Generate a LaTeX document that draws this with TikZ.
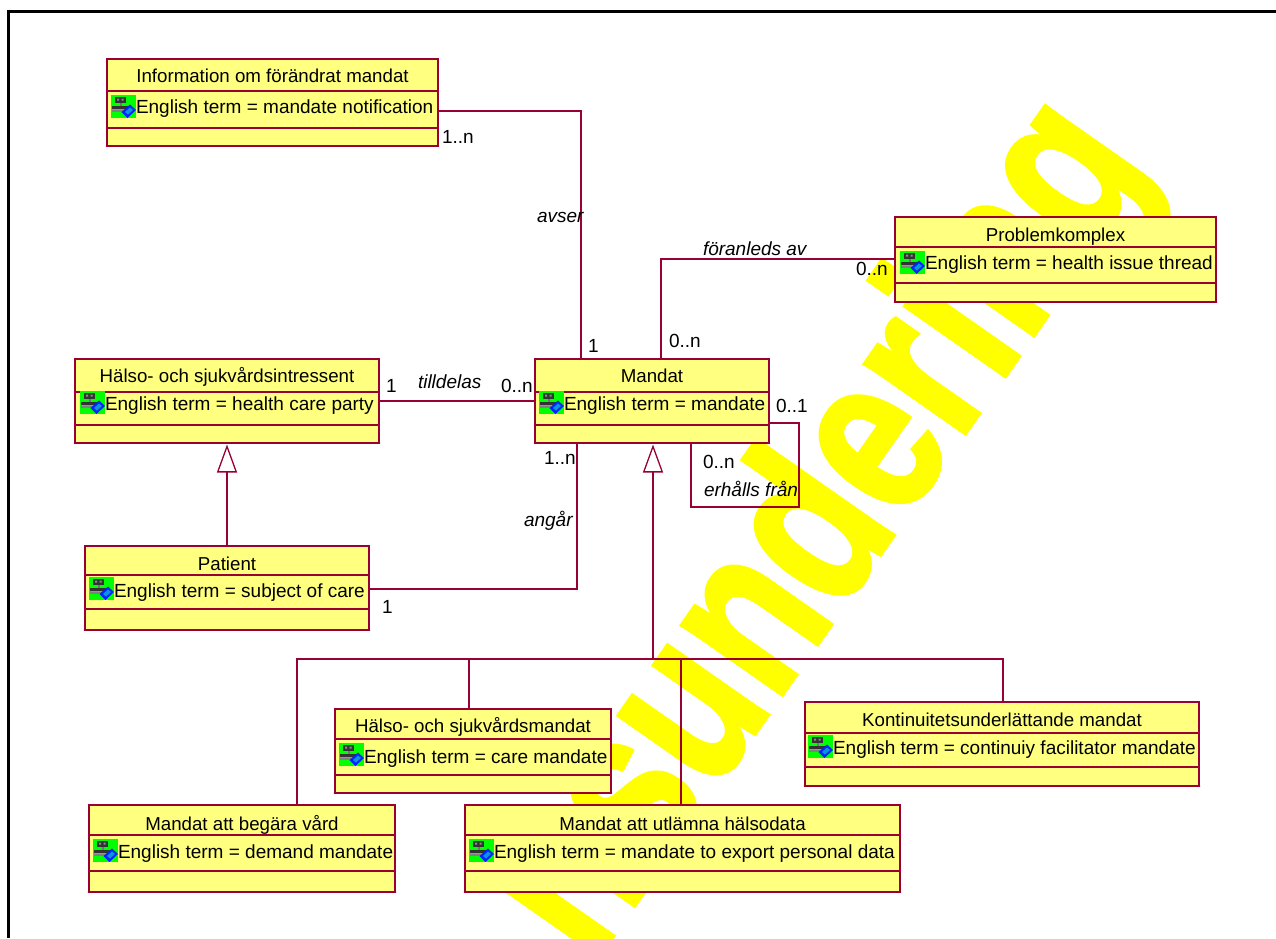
\documentclass[tikz,border=0pt]{standalone}
\usepackage{fontspec}
\setmainfont{Liberation Sans}
\newfontfamily\wmfont[FakeBold=2]{Liberation Sans Bold}
\usetikzlibrary{arrows.meta}
\definecolor{umlline}{HTML}{990033}
\definecolor{umlfill}{HTML}{FFFF80}
\definecolor{wmark}{HTML}{FFFF00}
\tikzset{
  classbox/.style={draw=umlline,fill=umlfill,line width=1.4pt,inner sep=0pt,outer sep=0pt,rectangle},
  titletext/.style={inner sep=0pt,outer sep=0pt,anchor=base,text=black,font=\fontsize{18.7}{22}\selectfont},
  attrtext/.style={inner sep=0pt,outer sep=0pt,text=black,anchor=base west,font=\fontsize{19}{22}\selectfont},
  mult/.style={attrtext},
  role/.style={attrtext,font=\fontsize{19}{22}\selectfont\itshape},
  assoc/.style={draw=umlline,line width=1.3pt},
  inherit/.style={draw=umlline,line width=1.3pt,shorten >=1.5pt,-{Triangle[length=28pt,width=20pt,fill=white]}},
}
\newcommand{\umlclass}[9]{%
  \pgfmathsetmacro{\cx}{(#2+#4)/2}\pgfmathsetmacro{\cy}{(#3+#5)/2}%
  \pgfmathsetmacro{\cw}{#4-#2}\pgfmathsetmacro{\ch}{#5-#3}%
  \node[classbox,minimum width=\cw pt,minimum height=\ch pt] (#1) at (\cx,\cy) {};
  \draw[umlline,line width=1.4pt] (#2,#6) -- (#4,#6) (#2,#7) -- (#4,#7);
  \draw[umlline,line width=2.8pt,line cap=round] (#2,#5) -- (#4,#5);
  \draw[umlline,line width=2pt] (#4,#3) -- (#4,#5);
  \umlrest{#1}{#8}{#9}{\cx}{#2}%
}
\newcommand{\umlrest}[5]{\def\un{#1}\def\tb{#2}\def\ab{#3}\def\mx{#4}\umlfinish}
\newcommand{\umlfinish}[4]{%
  \node[titletext] (\un-title) at (\mx,\tb) {#3};
  \umlicon{#1}{#2}
  \pgfmathsetmacro{\tx}{#1+25}%
  \node[attrtext] (\un-attr) at (\tx,\ab) {#4};
}
\newcommand{\umlicon}[2]{%
  \begin{scope}[shift={(#1,#2)}]
    \fill[green] (0,0) rectangle (24.5,23);
    \fill[black!80] (4,2) rectangle (15,8);
    \fill[black!45] (6,3.5) rectangle (8,5.5) (10.5,3.5) rectangle (12.5,5.5);
    \fill[black!55] (8.5,8) rectangle (11,10.5);
    \fill[black!80] (1,10.5) rectangle (17,14);
    \fill[black!50] (1,15) rectangle (13,17);
    \fill[blue!85!cyan] (10.5,17) -- (19,9.5) -- (25,15) -- (16.5,23) -- cycle;
    \fill[cyan!80!blue] (14,17) -- (19,12.5) -- (22,15) -- (17,19.5) -- cycle;
  \end{scope}%
}
\begin{document}
\begin{tikzpicture}[x=1pt,y=-1pt]
\useasboundingbox (0,0) rectangle (1276,938);
\fill[white] (0,0) rectangle (1276,938);
\begin{scope}
  \clip (0,0) rectangle (1276,938);
  \node[rotate=55,anchor=base east,inner sep=0pt,outer sep=0pt,text=wmark,font=\fontsize{230}{230}\wmfont] (wm) at (1152,166) {\scalebox{0.78}[1]{nsundering}};
\end{scope}
\coordinate (frameA) at (8.5,938);
\coordinate (frameB) at (8.5,11);
\coordinate (frameC) at (1276,11);
\draw[black,line width=3pt] (frameA) -- (frameB) -- (frameC);

\umlclass{info}{107}{59}{438}{146}{91}{128}{82}{113}{111}{95}{Information om förändrat mandat}{English term = mandate notification}
\umlclass{prob}{895}{217}{1216}{302}{247}{283}{241}{269}{900}{251}{Problemkomplex}{English term = health issue thread}
\umlclass{mandat}{535}{359}{769}{443}{392}{425}{382}{410}{539}{391}{Mandat}{English term = mandate}
\umlclass{halso}{75}{359}{379}{443}{392}{425}{382}{410}{80}{391}{Hälso- och sjukvårdsintressent}{English term = health care party}
\umlclass{patient}{85}{546}{369}{630}{575}{609}{570}{597}{89}{577}{Patient}{English term = subject of care}
\umlclass{care}{335}{709}{611}{793}{739}{775}{732}{763}{339}{743}{Hälso- och sjukvårdsmandat}{English term = care mandate}
\umlclass{demand}{89}{805}{395}{892}{835}{871}{830}{858}{93}{839}{Mandat att begära vård}{English term = demand mandate}
\umlclass{export}{465}{805}{900}{892}{835}{871}{830}{858}{469}{839}{Mandat att utlämna hälsodata}{English term = mandate to export personal data}
\umlclass{konti}{805}{702}{1199}{786}{733}{767}{726}{754}{808}{735}{Kontinuitetsunderlättande mandat}{English term = continuiy facilitator mandate}

\draw[assoc] (info.east |- 0,111) -| (mandat.north -| 581,0);
\draw[assoc] (prob.west |- 0,259) -| (mandat.north -| 661,0);
\draw[assoc] (halso.east |- 0,401) -- (mandat.west |- 0,401);
\draw[assoc] (patient.east |- 0,589) -| (mandat.south -| 577,0);
\draw[assoc] (mandat.east |- 0,423) -- (799,423) -- (799,507) -- (691,507) -- (mandat.south -| 691,0);
\draw[inherit] (patient.north -| 227,0) -- (halso.south -| 227,0);
\coordinate (junction) at (653,659);
\draw[inherit] (junction) -- (mandat.south -| 653,0);
\draw[assoc] (demand.north -| 297,0) |- (junction);
\draw[assoc] (junction) -| (konti.north -| 1003,0);
\draw[assoc] (care.north -| 469,0) -- (469,659);
\draw[assoc] (export.north -| 681,0) -- (681,659);

\node[mult] (m1) at (442,143) {1..n};
\node[role] (r1) at (537,222) {avser};
\node[role] (r2) at (703,255) {föranleds av};
\node[mult] (m2) at (856,275) {0..n};
\node[mult] (m3) at (588,352) {1};
\node[mult] (m4) at (669,347) {0..n};
\node[mult] (m5) at (386,392) {1};
\node[role] (r3) at (418,388) {tilldelas};
\node[mult] (m6) at (501,392) {0..n};
\node[mult] (m7) at (776,412) {0..1};
\node[mult] (m8) at (544,464) {1..n};
\node[mult] (m9) at (703,468) {0..n};
\node[role] (r4) at (704,496) {erhålls från};
\node[role] (r5) at (524,526) {angår};
\node[mult] (m10) at (382,613) {1};
\end{tikzpicture}
\end{document}
